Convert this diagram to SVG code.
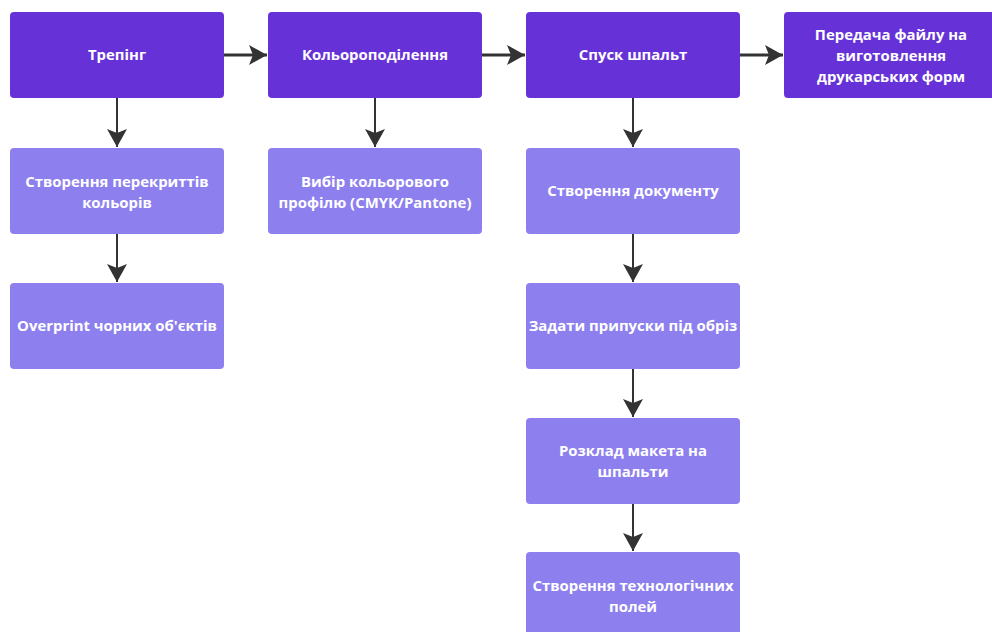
<svg xmlns="http://www.w3.org/2000/svg" width="992" height="632" viewBox="0 0 992 632">
<style>
.d{fill:#6632d8}
.l{fill:#8e7fee}
text{font-family:"Open Sans","Noto Sans","Liberation Sans",sans-serif;font-weight:700;font-size:14.9px;fill:#ffffff;text-anchor:middle}
.c{stroke:#333333;fill:none}
.h{stroke-width:3}
.v{stroke-width:2}
</style>
<defs>
<marker id="ah" markerUnits="userSpaceOnUse" viewBox="0 0 20 22" refX="19" refY="11" markerWidth="20" markerHeight="22" orient="auto">
<path d="M19,11 L1,1 L5,11 L1,21 Z" fill="#333333"/>
</marker>
</defs>
<rect width="992" height="632" fill="#ffffff"/>
<g id="connectors">
<path class="c h" d="M224,55 H267" marker-end="url(#ah)"/>
<path class="c h" d="M482,55 H525" marker-end="url(#ah)"/>
<path class="c h" d="M740,55 H783" marker-end="url(#ah)"/>
<path class="c v" d="M117,98 V147" marker-end="url(#ah)"/>
<path class="c v" d="M117,234 V282" marker-end="url(#ah)"/>
<path class="c v" d="M375,98 V147" marker-end="url(#ah)"/>
<path class="c v" d="M633,98 V147" marker-end="url(#ah)"/>
<path class="c v" d="M633,234 V282" marker-end="url(#ah)"/>
<path class="c v" d="M633,369 V417" marker-end="url(#ah)"/>
<path class="c v" d="M633,504 V551" marker-end="url(#ah)"/>
</g>
<g id="trapping"><rect class="d" x="10" y="12" width="214" height="86" rx="4"/><text x="117" y="60">Трепінг</text></g>
<g id="color-separation"><rect class="d" x="268" y="12" width="214" height="86" rx="4"/><text x="375" y="60">Кольороподілення</text></g>
<g id="imposition"><rect class="d" x="526" y="12" width="214" height="86" rx="4"/><text x="633" y="60">Спуск шпальт</text></g>
<g id="transfer"><rect class="d" x="784" y="12" width="214" height="86" rx="4"/><text x="891" y="40">Передача файлу на</text><text x="891" y="61">виготовлення</text><text x="891" y="82">друкарських форм</text></g>
<g id="overlaps"><rect class="l" x="10" y="148" width="214" height="86" rx="4"/><text x="117" y="187">Створення перекриттів</text><text x="117" y="208">кольорів</text></g>
<g id="overprint"><rect class="l" x="10" y="283" width="214" height="86" rx="4"/><text x="117" y="331">Overprint чорних об'єктів</text></g>
<g id="profile"><rect class="l" x="268" y="148" width="214" height="86" rx="4"/><text x="375" y="187">Вибір кольорового</text><text x="375" y="208">профілю (CMYK/Pantone)</text></g>
<g id="document"><rect class="l" x="526" y="148" width="214" height="86" rx="4"/><text x="633" y="196">Створення документу</text></g>
<g id="bleed"><rect class="l" x="526" y="283" width="214" height="86" rx="4"/><text x="633" y="331">Задати припуски під обріз</text></g>
<g id="layout"><rect class="l" x="526" y="418" width="214" height="86" rx="4"/><text x="633" y="456">Розклад макета на</text><text x="633" y="477">шпальти</text></g>
<g id="tech-fields"><rect class="l" x="526" y="552" width="214" height="86" rx="4"/><text x="633" y="591">Створення технологічних</text><text x="633" y="612">полей</text></g>
</svg>
